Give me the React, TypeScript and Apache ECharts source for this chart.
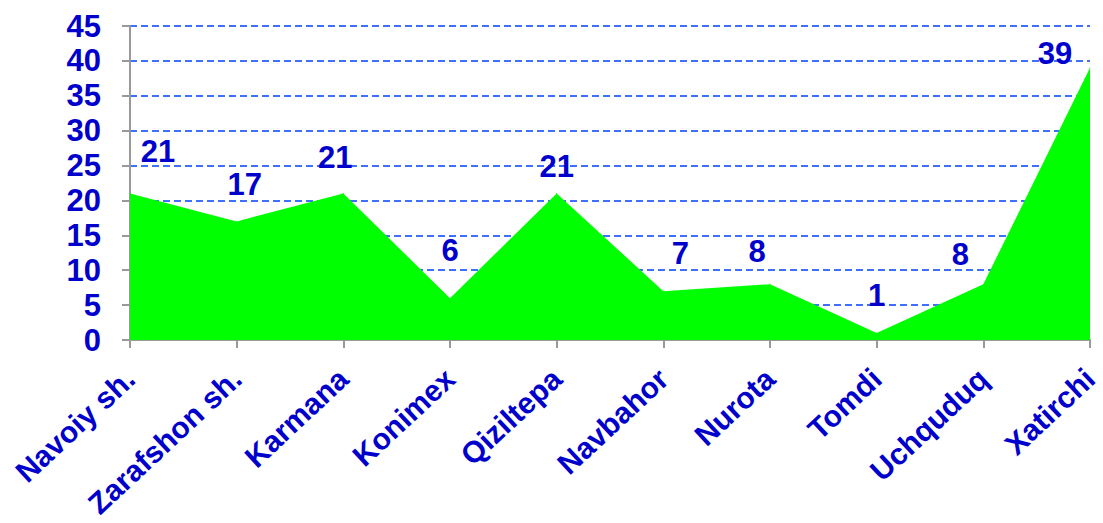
import React, { useEffect, useRef } from "react";
import * as echarts from "echarts";

const categories = ["Navoiy sh.", "Zarafshon sh.", "Karmana", "Konimex", "Qiziltepa", "Navbahor", "Nurota", "Tomdi", "Uchquduq", "Xatirchi"];
const values = [21, 17, 21, 6, 21, 7, 8, 1, 8, 39];
const labelOffsets = [[28, -21], [8, -16], [-8, -15], [0, -27], [0, -6], [17, -17], [-13, -12], [0, -17], [-23, -9], [-35, 7]];
const yTicks = { min: 0, max: 45, interval: 5 };

export default function App() {
  const ref = useRef<HTMLDivElement>(null);
  useEffect(() => {
    const chart = echarts.init(ref.current!, null, { renderer: "svg" });
    const font = "Liberation Sans, Arial, sans-serif";
    chart.setOption({
      animation: false,
      grid: { left: 130, right: 13, top: 26, bottom: 183 },
      xAxis: {
        type: "category",
        data: categories,
        boundaryGap: false,
        axisLine: { lineStyle: { color: "#999999", width: 2 } },
        axisTick: { show: true, length: 8, lineStyle: { color: "#999999", width: 2 }, alignWithLabel: true },
        axisLabel: { rotate: 43, margin: 34, color: "#0000CC", fontWeight: "bold", fontSize: 30, fontFamily: font, interval: 0 },
        splitLine: { show: false },
      },
      yAxis: {
        type: "value",
        min: yTicks.min,
        max: yTicks.max,
        interval: yTicks.interval,
        axisLine: { show: true, lineStyle: { color: "#999999", width: 2 } },
        axisTick: { show: true, length: 8, lineStyle: { color: "#999999", width: 2 } },
        axisLabel: { margin: 29, color: "#0000CC", fontWeight: "bold", fontSize: 31, fontFamily: font },
        splitLine: { show: true, lineStyle: { color: "#3F6FFF", type: [7, 4], width: 2 } },
      },
      series: [
        {
          type: "line",
          data: values.map((v, i) => ({ value: v, label: { offset: labelOffsets[i] } })),
          symbol: "circle",
          symbolSize: 1,
          showSymbol: true,
          itemStyle: { color: "#00FF00" },
          lineStyle: { width: 0 },
          areaStyle: { color: "#00FF00", opacity: 1 },
          z: 1,
          label: { show: true, position: "top", color: "#0000CC", fontWeight: "bold", fontSize: 31, fontFamily: font },
        },
      ],
    });
    return () => chart.dispose();
  }, []);
  return <div ref={ref} style={{ width: 1103, height: 523, position: "absolute", left: 0, top: 0 }} />;
}
